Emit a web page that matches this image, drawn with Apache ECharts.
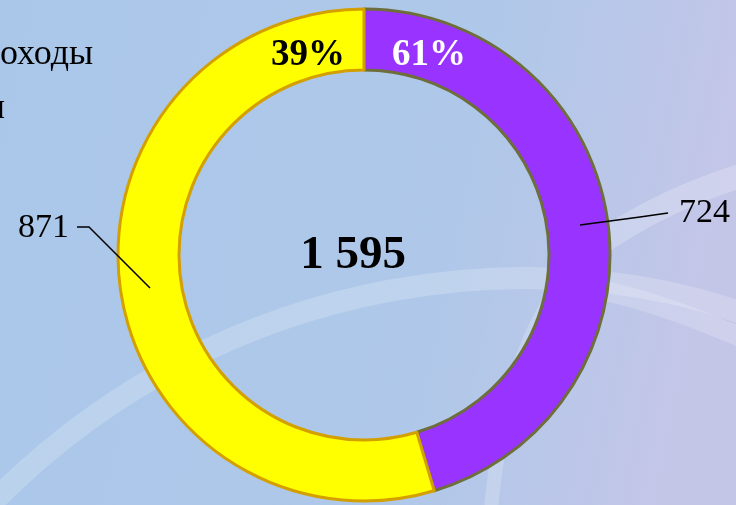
<!DOCTYPE html>
<html>
<head>
<meta charset="utf-8">
<script src="https://cdn.jsdelivr.net/npm/echarts@6/dist/echarts.min.js"></script>
<style>
  html, body { margin: 0; padding: 0; }
  #chart { width: 736px; height: 505px; }
</style>
</head>
<body>
<div id="chart"></div>
<script>
// данные
var names = ["Доходы", "Расходы"];
var values = [724, 871];
var colors = ["#9933FF", "#FFFF00"];
var borderColors = ["#6E6E3C", "#D4A000"];
var pctLabels = ["61%", "39%"];
var totalLabel = "1 595";

var chart = echarts.init(document.getElementById("chart"));

var serif = "'Liberation Serif', 'Times New Roman', serif";

chart.setOption({
  backgroundColor: {
    type: "linear", x: 0, y: 0, x2: 1, y2: 0.3,
    colorStops: [
      { offset: 0, color: "#AAC7E9" },
      { offset: 0.65, color: "#AFC8E9" },
      { offset: 1, color: "#C4C6E8" }
    ]
  },
  graphic: [
    // декоративные дуги фона
    {
      type: "bezierCurve", silent: true, z: -1,
      shape: { x1: -10, y1: 505, cpx1: 230, cpy1: 260, cpx2: 560, cpy2: 240, x2: 760, y2: 320 },
      style: { stroke: "rgba(255,255,255,0.2)", lineWidth: 22, fill: null }
    },
    {
      type: "bezierCurve", silent: true, z: -1,
      shape: { x1: 490, y1: 520, cpx1: 500, cpy1: 400, cpx2: 530, cpy2: 300, x2: 600, y2: 240 },
      style: { stroke: "rgba(255,255,255,0.2)", lineWidth: 14, fill: null }
    },
    {
      type: "bezierCurve", silent: true, z: -1,
      shape: { x1: 590, y1: 250, cpx1: 640, cpy1: 215, cpx2: 690, cpy2: 190, x2: 760, y2: 170 },
      style: { stroke: "rgba(255,255,255,0.22)", lineWidth: 24, fill: null }
    },
    {
      type: "bezierCurve", silent: true, z: -1,
      shape: { x1: 600, y1: 290, cpx1: 650, cpy1: 300, cpx2: 700, cpy2: 320, x2: 760, y2: 345 },
      style: { stroke: "rgba(255,255,255,0.18)", lineWidth: 20, fill: null }
    },
    // обрезанная краем легенда слева
    {
      type: "text", x: 0, y: 55,
      style: { text: names[0].slice(1), font: "36px " + serif, fill: "#000", textAlign: "left", textVerticalAlign: "middle" }
    },
    {
      type: "text", x: 5, y: 109,
      style: { text: "ии", font: "36px " + serif, fill: "#000", textAlign: "right", textVerticalAlign: "middle" }
    },
    // проценты
    {
      type: "text", x: 429, y: 55, z: 10,
      style: { text: pctLabels[0], font: "bold 37px " + serif, fill: "#FFFFFF", textAlign: "center", textVerticalAlign: "middle" }
    },
    {
      type: "text", x: 308, y: 55, z: 10,
      style: { text: pctLabels[1], font: "bold 37px " + serif, fill: "#000000", textAlign: "center", textVerticalAlign: "middle" }
    },
    // итог в центре
    {
      type: "text", x: 353, y: 256, z: 10,
      style: { text: totalLabel, font: "bold 47px " + serif, fill: "#000000", textAlign: "center", textVerticalAlign: "middle" }
    }
  ],
  series: [
    {
      type: "pie",
      z: 2,
      center: [364, 255],
      radius: [185, 246],
      startAngle: 90,
      clockwise: true,
      silent: true,
      label: { show: false },
      labelLine: { show: false },
      data: values.map(function (v, i) {
        return {
          name: names[i],
          value: v,
          itemStyle: { color: colors[i], borderColor: borderColors[i], borderWidth: 3 }
        };
      })
    },
    {
      // прозрачный слой для подписей значений, линии начинаются в середине кольца
      type: "pie",
      z: 5,
      center: [364, 255],
      radius: [0, 216],
      startAngle: 90,
      clockwise: true,
      silent: true,
      avoidLabelOverlap: false,
      itemStyle: { color: "transparent", borderWidth: 0 },
      data: values.map(function (v, i) {
        return { name: names[i], value: v };
      }),
      label: {
        show: true,
        formatter: "{c}",
        fontFamily: serif,
        fontSize: 34,
        color: "#000"
      },
      labelLine: {
        show: true,
        lineStyle: { color: "#000", width: 1.5 }
      },
      labelLayout: function (params) {
        if (params.dataIndex === 0) {
          return {
            x: 679, y: 213, align: "left", verticalAlign: "middle",
            labelLinePoints: [[580, 225], [640, 217], [668, 213]]
          };
        }
        return {
          x: 69, y: 228, align: "right", verticalAlign: "middle",
          labelLinePoints: [[150, 288], [89, 227], [77, 227]]
        };
      }
    }
  ]
});
</script>
</body>
</html>
